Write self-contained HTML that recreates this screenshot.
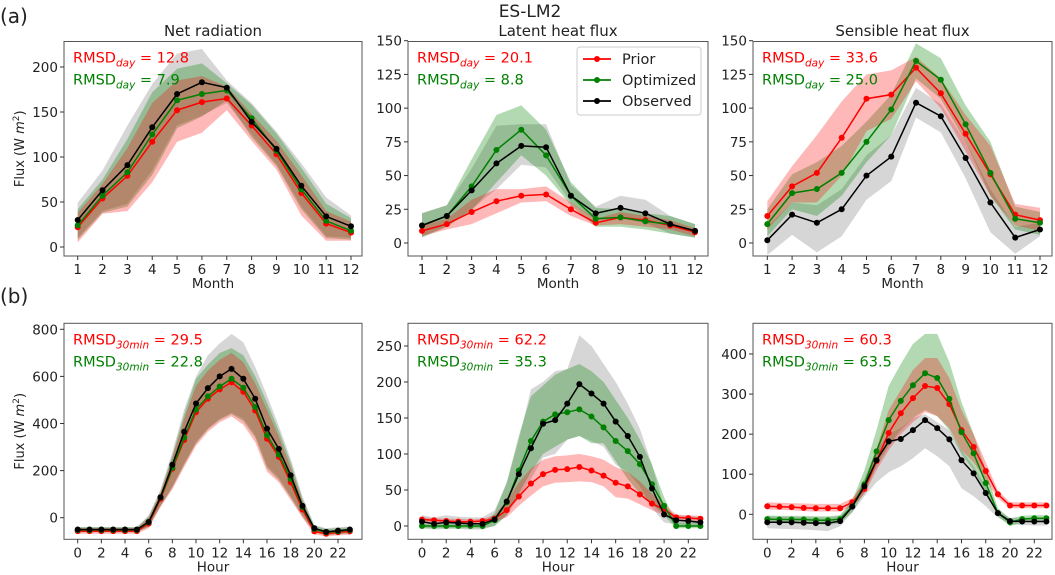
<!DOCTYPE html>
<html><head><meta charset="utf-8"><style>
body{margin:0;background:#fff;}
svg{display:block;font-family:"DejaVu Sans","Liberation Sans",sans-serif;}
</style></head><body>
<svg id="fig" width="1055" height="575" viewBox="0 0 1055 575">
<text x="0" y="23" font-size="20" fill="#222">(a)</text>
<text x="0" y="303" font-size="20" fill="#222">(b)</text>
<text x="530" y="17" font-size="17" text-anchor="middle" fill="#222">ES-LM2</text>
</svg>
<script>
const months=[1,2,3,4,5,6,7,8,9,10,11,12];
const hours=[0,1,2,3,4,5,6,7,8,9,10,11,12,13,14,15,16,17,18,19,20,21,22,23];
const monthTicks=[1,2,3,4,5,6,7,8,9,10,11,12];
const hourTicks=[0,2,4,6,8,10,12,14,16,18,20,22];
// Panel 1 net radiation monthly
const rnMObs=[30,63,91,133,170,183,177,139,109,68,34,23];
const rnMOpt=[24,57,83,125,163,170,174,143,107,64,29,18];
const rnMPri=[22,54,79,117,152,161,165,135,103,60,26,16];
const rnMObsHi=[49,85,135,181,215,220,185,160,128,93,55,35];
const rnMObsLo=[10,40,48,85,135,146,160,125,92,45,12,10];
const rnMOptHi=[42,75,120,172,198,204,182,158,126,88,48,32];
const rnMOptLo=[8,38,45,80,132,145,163,122,90,42,10,8];
const rnMPriHi=[38,70,110,160,185,190,178,148,118,80,40,28];
const rnMPriLo=[5,37,40,72,117,127,152,118,86,35,7,7];
const rnMTicks=[0,50,100,150,200];
// Panel 2 latent monthly
const leMObs=[13,20,39,59,72,71,35,22,26,22,14,9];
const leMOpt=[13,20,42,69,84,65,35,18,19,16,14,9];
const leMPri=[9,14,23,31,35,36,25,15,19,17,13,8];
const leMObsHi=[22,28,55,87,88,88,43,27,35,32,20,14];
const leMObsLo=[5,12,25,40,58,56,30,17,18,15,7,4];
const leMOptHi=[22,28,62,95,102,84,45,26,25,22,20,14];
const leMOptLo=[4,12,24,45,65,50,28,12,12,10,7,4];
const leMPriHi=[13,18,32,40,40,42,30,18,23,20,17,11];
const leMPriLo=[5,10,14,22,30,31,20,13,14,12,10,5];
const leMTicks=[0,25,50,75,100,125,150];
// Panel 3 sensible monthly
const hMObs=[2,21,15,25,50,64,104,94,63,30,4,10];
const hMOpt=[14,37,40,52,75,99,135,121,88,52,18,15];
const hMPri=[20,42,52,78,107,110,130,111,81,51,21,17];
const hMObsHi=[12,30,28,40,65,80,115,103,75,40,12,15];
const hMObsLo=[-9,6,-7,5,32,46,93,82,48,8,-8,5];
const hMOptHi=[25,51,60,72,90,110,148,137,102,75,27,23];
const hMOptLo=[5,25,20,35,60,80,122,107,75,35,10,6];
const hMPriHi=[31,57,80,105,125,128,138,122,95,72,29,26];
const hMPriLo=[10,30,30,50,83,92,120,100,68,35,13,9];
const hMTicks=[0,25,50,75,100,125,150];
// Panel 4 net radiation hourly
const rnHObs=[-50,-50,-50,-50,-50,-50,-18,87,225,365,485,550,600,632,590,505,378,292,180,50,-45,-60,-55,-50];
const rnHOpt=[-52,-52,-52,-52,-52,-52,-20,85,212,340,460,515,557,590,552,470,350,268,165,45,-48,-62,-58,-52];
const rnHPri=[-57,-57,-57,-57,-57,-57,-25,80,208,330,448,505,545,575,535,455,335,258,150,35,-58,-68,-62,-58];
const rnHObsHi=[-40,-40,-40,-40,-40,-40,10,120,280,460,600,690,740,780,745,640,520,390,250,90,-30,-45,-40,-38];
const rnHObsLo=[-60,-60,-60,-60,-60,-60,-40,50,130,230,320,380,420,445,420,350,220,170,90,10,-60,-72,-68,-65];
const rnHOptHi=[-40,-40,-40,-40,-40,-40,5,110,265,440,590,650,700,720,690,600,490,370,235,80,-35,-48,-44,-40];
const rnHOptLo=[-62,-62,-62,-62,-62,-62,-38,50,130,225,315,375,415,440,410,340,210,160,85,5,-62,-75,-70,-66];
const rnHPriHi=[-45,-45,-45,-45,-45,-45,0,105,255,420,560,625,670,700,660,570,460,345,215,70,-45,-55,-52,-48];
const rnHPriLo=[-68,-68,-68,-68,-68,-68,-45,45,120,215,305,365,405,430,395,320,195,150,75,0,-70,-80,-75,-72];
const rnHTicks=[0,200,400,600,800];
// Panel 5 latent hourly
const leHObs=[6,3,5,4,3,3,9,34,72,108,142,147,170,197,184,170,145,125,96,52,16,8,7,5];
const leHOpt=[0,0,0,0,0,0,8,33,77,118,145,155,158,162,152,137,118,104,86,58,28,0,0,0];
const leHPri=[9,8,7,6,6,7,10,22,41,59,72,78,79,82,77,70,60,55,44,31,23,12,11,10];
const leHObsHi=[15,12,15,13,12,12,22,60,120,190,200,215,218,265,250,225,200,170,135,85,25,15,14,12];
const leHObsLo=[-3,-5,-4,-4,-5,-5,0,15,40,65,95,100,120,125,118,110,85,75,55,25,5,2,1,-1];
const leHOptHi=[3,3,3,3,3,3,18,60,125,180,195,210,218,225,215,200,175,150,120,85,40,5,5,5];
const leHOptLo=[-3,-3,-3,-3,-3,-3,0,15,45,75,100,110,120,125,115,115,90,65,45,30,15,-3,-3,-3];
const leHPriHi=[12,11,10,10,9,10,15,35,60,80,92,97,98,100,97,92,82,75,62,45,30,16,15,14];
const leHPriLo=[6,5,4,3,3,4,6,12,28,42,55,60,61,62,61,55,40,38,30,22,15,8,7,6];
const leHTicks=[0,50,100,150,200,250];
// Panel 6 sensible hourly
const hHObs=[-20,-20,-20,-21,-22,-22,-17,19,70,135,182,188,210,235,215,187,135,102,53,3,-17,-18,-18,-18];
const hHOpt=[-12,-13,-13,-13,-15,-15,-12,20,75,157,235,283,322,352,340,288,205,152,78,3,-20,-12,-10,-10];
const hHPri=[20,19,18,16,15,15,15,30,63,133,203,252,290,320,315,275,210,168,108,50,22,22,22,22];
const hHObsHi=[-5,-6,-6,-7,-8,-8,-5,30,90,160,200,215,240,250,230,210,160,120,70,10,-10,-10,-10,-10];
const hHObsLo=[-35,-36,-37,-38,-40,-42,-30,5,45,80,105,120,140,165,145,120,65,45,20,-8,-25,-27,-28,-28];
const hHOptHi=[-3,-4,-4,-4,-5,-5,-2,35,110,210,320,375,425,450,450,380,280,200,110,15,-10,-4,-2,-2];
const hHOptLo=[-22,-22,-23,-23,-25,-26,-22,5,55,120,170,210,240,260,245,210,150,110,55,-5,-30,-20,-18,-18];
const hHPriHi=[30,29,28,27,26,26,26,40,80,165,260,310,360,390,390,340,260,200,130,60,30,30,30,30];
const hHPriLo=[12,11,10,8,7,7,7,20,50,110,160,200,230,255,245,215,160,130,85,40,15,15,15,15];
const hHTicks=[0,100,200,300,400];

const NS='http://www.w3.org/2000/svg';
const svg=document.getElementById('fig');
function mk(tag,attrs,parent){const e=document.createElementNS(NS,tag);for(const k in attrs)e.setAttribute(k,attrs[k]);(parent||svg).appendChild(e);return e;}

const panels=[
 {id:'net-radiation-monthly',title:'Net radiation',l:64,r:362,t:41.5,b:256,xs:months,xt:monthTicks,xa:1,xb:12,pa:77.7,pb:351,y0:247,k:0.9,yt:rnMTicks,xl:'Month',ylab:true,
  obs:rnMObs,opt:rnMOpt,pri:rnMPri,oh:rnMObsHi,ol:rnMObsLo,gh:rnMOptHi,gl:rnMOptLo,ph:rnMPriHi,pl:rnMPriLo,sub:'day',r1:'12.8',r2:'7.9'},
 {id:'latent-heat-monthly',title:'Latent heat flux',l:408,r:708,t:41.5,b:256,xs:months,xt:monthTicks,xa:1,xb:12,pa:422,pb:695,y0:243,k:1.3487,yt:leMTicks,xl:'Month',legend:true,
  obs:leMObs,opt:leMOpt,pri:leMPri,oh:leMObsHi,ol:leMObsLo,gh:leMOptHi,gl:leMOptLo,ph:leMPriHi,pl:leMPriLo,sub:'day',r1:'20.1',r2:'8.8'},
 {id:'sensible-heat-monthly',title:'Sensible heat flux',l:753,r:1052,t:41.5,b:256,xs:months,xt:monthTicks,xa:1,xb:12,pa:767.3,pb:1040,y0:243,k:1.3487,yt:hMTicks,xl:'Month',
  obs:hMObs,opt:hMOpt,pri:hMPri,oh:hMObsHi,ol:hMObsLo,gh:hMOptHi,gl:hMOptLo,ph:hMPriHi,pl:hMPriLo,sub:'day',r1:'33.6',r2:'25.0'},
 {id:'net-radiation-hourly',l:64,r:362,t:323.3,b:539.3,xs:hours,xt:hourTicks,xa:0,xb:22,pa:77.7,pb:338,y0:517.7,k:0.2355,yt:rnHTicks,xl:'Hour',ylab:true,
  obs:rnHObs,opt:rnHOpt,pri:rnHPri,oh:rnHObsHi,ol:rnHObsLo,gh:rnHOptHi,gl:rnHOptLo,ph:rnHPriHi,pl:rnHPriLo,sub:'30min',r1:'29.5',r2:'22.8'},
 {id:'latent-heat-hourly',l:408,r:708,t:323.3,b:539.3,xs:hours,xt:hourTicks,xa:0,xb:22,pa:422,pb:688.3,y0:526,k:0.72,yt:leHTicks,xl:'Hour',
  obs:leHObs,opt:leHOpt,pri:leHPri,oh:leHObsHi,ol:leHObsLo,gh:leHOptHi,gl:leHOptLo,ph:leHPriHi,pl:leHPriLo,sub:'30min',r1:'62.2',r2:'35.3'},
 {id:'sensible-heat-hourly',l:753,r:1052,t:323.3,b:539.3,xs:hours,xt:hourTicks,xa:0,xb:22,pa:767.3,pb:1034.3,y0:514.3,k:0.4008,yt:hHTicks,xl:'Hour',
  obs:hHObs,opt:hHOpt,pri:hHPri,oh:hHObsHi,ol:hHObsLo,gh:hHOptHi,gl:hHOptLo,ph:hHPriHi,pl:hHPriLo,sub:'30min',r1:'60.3',r2:'63.5'}
];

panels.forEach((p,pi)=>{
 const X=v=>p.pa+(v-p.xa)*(p.pb-p.pa)/(p.xb-p.xa);
 const Y=v=>p.y0-v*p.k;
 const g=mk('g',{});
 
 
 const cid='clip'+pi;
 const cp=mk('clipPath',{id:cid},g);
 mk('rect',{x:p.l,y:p.t,width:p.r-p.l,height:p.b-p.t},cp);
 const plot=mk('g',{'clip-path':'url(#'+cid+')'},g);
 function band(hi,lo,fill,op,name){
  let d='M'+p.xs.map((x,i)=>X(x).toFixed(1)+','+Y(hi[i]).toFixed(1)).join('L');
  for(let i=p.xs.length-1;i>=0;i--)d+='L'+X(p.xs[i]).toFixed(1)+','+Y(lo[i]).toFixed(1);
  const e=mk('path',{d:d+'Z',fill:fill,'fill-opacity':op},plot);
  
  
 }
 band(p.oh,p.ol,'#000',0.16,'observed-band');
 band(p.gh,p.gl,'#008000',0.3,'optimized-band');
 band(p.ph,p.pl,'#ff0000',0.28,'prior-band');
 function line(vals,col,name){
  const e=mk('polyline',{points:p.xs.map((x,i)=>X(x).toFixed(1)+','+Y(vals[i]).toFixed(1)).join(' '),fill:'none',stroke:col,'stroke-width':1.5},plot);
  
  
  p.xs.forEach((x,i)=>{
   const c=mk('circle',{cx:X(x),cy:Y(vals[i]),r:3,fill:col},plot);
   
   
  });
 }
 line(p.pri,'#ff0000','prior');
 line(p.opt,'#008000','optimized');
 line(p.obs,'#000','observed');
 const box=mk('rect',{x:p.l,y:p.t,width:p.r-p.l,height:p.b-p.t,fill:'none',stroke:'#555','stroke-width':1},g);
 
 
 p.yt.forEach(v=>{
  mk('line',{x1:p.l-4,x2:p.l,y1:Y(v),y2:Y(v),stroke:'#333'},g);
  const t=mk('text',{x:p.l-6,y:Y(v)+5,'font-size':13.5,'text-anchor':'end',fill:'#222'},g);
  t.textContent=v;
  
  
 });
 p.xt.forEach(v=>{
  mk('line',{x1:X(v),x2:X(v),y1:p.b,y2:p.b+4,stroke:'#333'},g);
  const t=mk('text',{x:X(v),y:p.b+18,'font-size':13.5,'text-anchor':'middle',fill:'#222'},g);
  t.textContent=v;
  
  
 });
 const xl=mk('text',{x:(p.l+p.r)/2,y:p.b+32,'font-size':13.5,'text-anchor':'middle',fill:'#222'},g);
 xl.textContent=p.xl;
 
 
 if(p.title){
  const tt=mk('text',{x:(p.l+p.r)/2,y:36,'font-size':15,'text-anchor':'middle',fill:'#222'},g);
  tt.textContent=p.title;
  
  
 }
 if(p.ylab){
  const cy=(p.t+p.b)/2;
  const yl=mk('text',{x:24,y:cy,'font-size':13,'text-anchor':'middle',fill:'#222',transform:'rotate(-90 24 '+cy+')'},g);
  yl.innerHTML='Flux (W <tspan font-style="italic">m</tspan><tspan dy="-5" font-size="9">2</tspan><tspan dy="5">)</tspan>';
  
  
 }
 [[p.r1,'#ff0000',p.t+21,'rmsd-prior'],[p.r2,'#008000',p.t+43,'rmsd-optimized']].forEach(a=>{
  const t=mk('text',{x:p.l+9,y:a[2],'font-size':14.5,fill:a[1]},g);
  t.innerHTML='RMSD<tspan dy="4" font-size="10.5" font-style="italic">'+(p.sub==='day'?'day':'30min')+'</tspan><tspan dy="-4"> = '+a[0]+'</tspan>';
  
  
 });
 if(p.legend){
  const lg=mk('g',{},g);
  
  
  mk('rect',{x:577,y:47,width:124,height:68,rx:3,fill:'#fff','fill-opacity':0.85,stroke:'#ccc'},lg);
  [['Prior','#ff0000',59],['Optimized','#008000',80],['Observed','#000',101]].forEach(e=>{
   const it=mk('g',{},lg);
   
   
   mk('line',{x1:583,x2:611,y1:e[2],y2:e[2],stroke:e[1],'stroke-width':1.8},it);
   mk('circle',{cx:597,cy:e[2],r:3,fill:e[1]},it);
   const t=mk('text',{x:622,y:e[2]+5,'font-size':14.5,fill:'#222'},it);
   t.textContent=e[0];
  });
 }
});
</script>
</body></html>
